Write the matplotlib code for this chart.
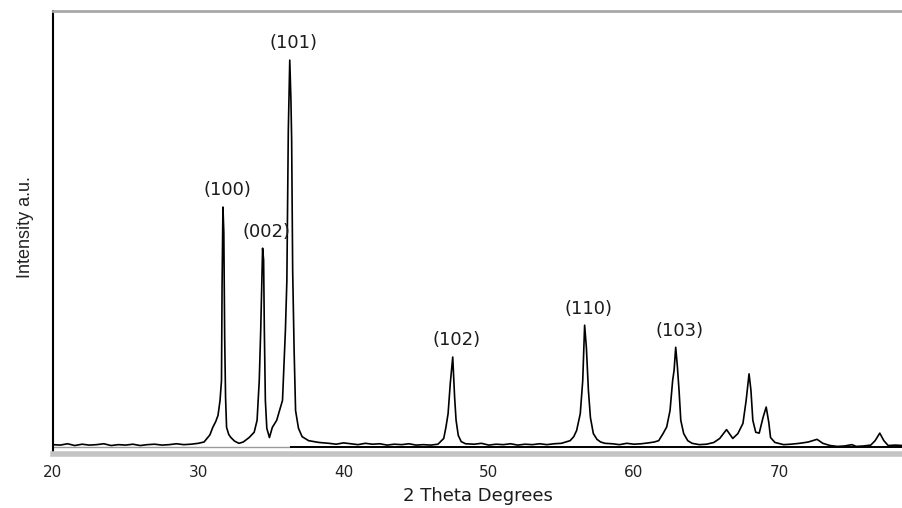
#!/usr/bin/env python3
"""XRD pattern (ZnO) with hkl labels."""

import matplotlib
matplotlib.use('Agg')
import matplotlib.pyplot as plt
import numpy as np

# ── Data ──
two_theta = [
    20.0, 20.5, 21.0, 21.5, 22.0, 22.5, 23.0, 23.5, 24.0, 24.5, 25.0, 25.5,
    26.0, 26.5, 27.0, 27.5, 28.0, 28.5, 29.0, 29.5, 30.0, 30.4, 30.8, 31.0,
    31.2, 31.36, 31.5, 31.6, 31.64, 31.7, 31.76, 31.82, 31.88, 31.95, 32.1,
    32.25, 32.5, 32.8, 33.1, 33.5, 33.85, 34.05, 34.2, 34.3, 34.43, 34.5,
    34.55, 34.62, 34.72, 34.9, 35.1, 35.4, 35.8, 36.0, 36.1, 36.2, 36.3,
    36.38, 36.43, 36.5, 36.6, 36.7, 36.9, 37.15, 37.6, 38.3, 39.0, 39.5,
    40.0, 40.5, 41.0, 41.5, 42.0, 42.5, 43.0, 43.5, 44.0, 44.5, 45.0, 45.5,
    46.0, 46.5, 46.9, 47.05, 47.2, 47.35, 47.52, 47.65, 47.75, 47.9, 48.1,
    48.4, 49.0, 49.5, 50.0, 50.5, 51.0, 51.5, 52.0, 52.5, 53.0, 53.5, 54.0,
    54.5, 55.0, 55.3, 55.6, 55.85, 56.05, 56.3, 56.47, 56.6, 56.72, 56.86,
    57.0, 57.2, 57.45, 57.7, 58.0, 58.5, 59.0, 59.5, 60.0, 60.5, 61.0, 61.4,
    61.7, 62.0, 62.25, 62.48, 62.66, 62.76, 62.87, 62.98, 63.1, 63.22, 63.42,
    63.7, 64.0, 64.5, 65.0, 65.5, 65.9, 66.37, 66.8, 67.15, 67.5, 67.72,
    67.92, 68.05, 68.18, 68.38, 68.62, 68.88, 69.1, 69.28, 69.4, 69.7, 70.3,
    70.8, 71.4, 72.0, 72.3, 72.6, 73.0, 73.5, 74.0, 74.5, 75.0, 75.3, 75.8,
    76.3, 76.6, 76.92, 77.2, 77.5, 78.0, 78.5,
]
intensity = [
    2.0, 1.9, 2.2, 1.8, 2.1, 1.9, 2.0, 2.2, 1.8, 2.0, 1.9, 2.1,
    1.8, 2.0, 2.1, 1.9, 2.0, 2.2, 2.0, 2.1, 2.3, 2.6, 4.2, 5.9,
    7.2, 8.6, 12.0, 16.5, 38.0, 55.7, 50.0, 26.0, 12.7, 5.9, 4.3,
    3.6, 2.8, 2.3, 2.6, 3.6, 4.8, 7.5, 16.5, 27.8, 46.4, 43.7,
    27.8, 12.0, 5.7, 3.6, 5.9, 7.5, 12.0, 27.8, 39.0, 73.0, 88.9,
    80.0, 70.8, 41.4, 23.3, 9.7, 5.7, 3.8, 2.9, 2.5, 2.3, 2.1,
    2.4, 2.2, 2.0, 2.3, 2.1, 2.2, 1.9, 2.1, 2.0, 2.2, 1.9, 2.0,
    1.9, 2.1, 3.4, 5.9, 9.0, 15.8, 21.8, 12.7, 7.5, 4.1, 2.7,
    2.2, 2.1, 2.3, 1.9, 2.1, 2.0, 2.2, 1.9, 2.1, 2.0, 2.2, 2.0,
    2.2, 2.3, 2.6, 2.9, 3.8, 5.2, 9.0, 16.5, 29.0, 24.0, 14.3,
    8.1, 4.5, 3.2, 2.6, 2.3, 2.2, 2.0, 2.3, 2.1, 2.2, 2.4, 2.6,
    2.9, 4.5, 6.0, 9.7, 16.5, 18.8, 24.0, 19.9, 14.3, 7.5, 4.5,
    2.9, 2.3, 2.0, 2.1, 2.5, 3.4, 5.4, 3.4, 4.5, 6.8, 12.0,
    18.0, 14.3, 7.5, 4.8, 4.6, 8.1, 10.5, 7.0, 3.6, 2.5, 2.0,
    2.1, 2.3, 2.6, 2.9, 3.2, 2.3, 1.8, 1.6, 1.7, 2.0, 1.6, 1.7,
    1.9, 2.9, 4.6, 2.9, 1.8, 1.9, 1.8,
]

hkl_labels = ['(100)', '(002)', '(101)', '(102)', '(110)', '(103)']
hkl_positions = [31.7, 34.43, 36.3, 47.52, 56.6, 62.87]

x_ticks = [20, 30, 40, 50, 60, 70]
baseline_level = 1.4

# ── Figure ──
W, H = 902, 508
fig = plt.figure(figsize=(W / 100, H / 100), dpi=100)
ax = fig.add_axes([53 / W, (H - 453.5) / H, (W - 53) / W, (453.5 - 11) / H])

ax.plot(two_theta, intensity, color='black', linewidth=1.2, zorder=3)

# flat reference line under the pattern (dark right of the (101) peak)
ax.hlines(baseline_level, 20, hkl_positions[2], color='#9a9a9a', linewidth=1.0)
ax.hlines(baseline_level, hkl_positions[2], 80, color='black', linewidth=1.4)

tt = np.array(two_theta)
ii = np.array(intensity)
for lab, pos in zip(hkl_labels, hkl_positions):
    top = ii[np.abs(tt - pos) < 0.3].max()
    ax.annotate(lab, xy=(pos, top), xytext=(3, 12), textcoords='offset points',
                ha='center', va='center', fontsize=13, color='#1c1c1c',
                family='DejaVu Sans')

ax.set_xlim(20, 78.45)
ax.set_ylim(0, 100)
ax.set_xticks(x_ticks)
ax.set_xticklabels([str(t) for t in x_ticks], fontsize=11, color='#222222',
                   family='DejaVu Sans')
ax.set_yticks([])
ax.tick_params(axis='x', length=0, pad=8)

ax.spines['right'].set_visible(False)
ax.spines['left'].set_color('black')
ax.spines['left'].set_linewidth(1.5)
ax.spines['top'].set_color('#a8a8a8')
ax.spines['top'].set_linewidth(2.0)
ax.spines['bottom'].set_color('#c4c4c4')
ax.spines['bottom'].set_linewidth(4.0)

ax.set_xlabel('2 Theta Degrees', fontsize=13, color='#1c1c1c',
              family='DejaVu Sans', labelpad=5)
fig.text(25 / W, 1 - 227 / H, 'Intensity a.u.', rotation=90, ha='center',
         va='center', fontsize=13, color='#222222',
         family=['Liberation Sans Narrow', 'Liberation Sans', 'DejaVu Sans'])

fig.savefig('out.png', dpi=100, facecolor='white')
plt.close(fig)
